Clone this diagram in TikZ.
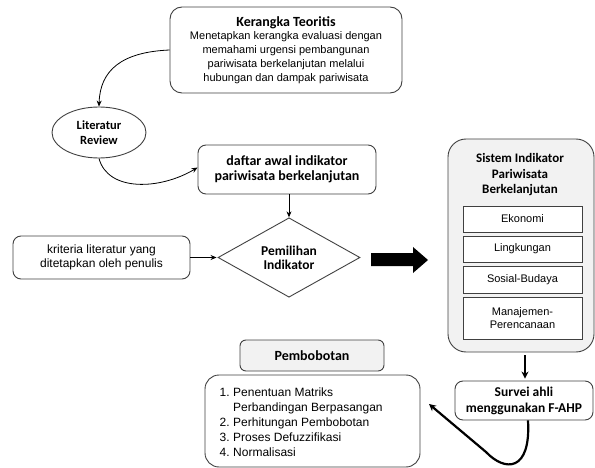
\documentclass[tikz,border=0pt]{standalone}
\usepackage{fontspec}
\setmainfont{Liberation Sans}
\newfontfamily\calb{Carlito}[BoldFont={* Bold}]
\usetikzlibrary{shapes.geometric,arrows.meta}
\definecolor{bordc}{HTML}{404040}
\definecolor{lightfill}{HTML}{F2F2F2}
\tikzset{
  rbox/.style={draw=bordc, line width=0.9pt, fill=white, rounded corners=8pt, align=center, inner sep=0pt},
  sqbox/.style={draw=bordc, line width=0.9pt, fill=white, align=center, inner sep=0pt, minimum width=119pt},
  conn/.style={draw=black, line width=0.8pt, -{Stealth[length=6pt,width=5pt]}},
  thickconn/.style={draw=black, line width=2.2pt, -{Stealth[length=7pt,width=7pt]}},
  regtext/.style={font=\fontsize{11}{14}\selectfont},
  boldtext/.style={font=\calb\bfseries\fontsize{13.5}{15}\selectfont}
}
\begin{document}
\begin{tikzpicture}[x=1pt,y=-1pt]
\useasboundingbox (0,0) rectangle (595,468);

% Kerangka Teoritis
\node[rbox, rounded corners=12pt, minimum width=232pt, minimum height=86pt, regtext] (ker) at (286,50)
 {{\calb\bfseries\fontsize{14}{15}\selectfont Kerangka Teoritis}\\[-1pt]
  Menetapkan kerangka evaluasi dengan\\
  memahami urgensi pembangunan\\
  pariwisata berkelanjutan melalui\\
  hubungan dan dampak pariwisata};

% Literatur Review
\node[ellipse, draw=bordc, line width=0.9pt, fill=white, minimum width=94pt, minimum height=51pt, inner sep=0pt, align=center,
      font=\calb\bfseries\fontsize{12.5}{15}\selectfont] (lit) at (99,132.5) {Literatur\\Review};

% daftar awal
\node[rbox, minimum width=178pt, minimum height=49pt, font=\calb\bfseries\fontsize{14}{14.5}\selectfont] (daf) at (287,169.5)
 {daftar awal indikator\\pariwisata berkelanjutan};

% kriteria
\node[rbox, minimum width=177pt, minimum height=43pt, font=\fontsize{12}{14.5}\selectfont] (kri) at (101.5,257.5)
 {kriteria literatur yang\\ditetapkan oleh penulis};

% Pemilihan Indikator
\node[diamond, draw=bordc, line width=0.9pt, fill=white, minimum width=142pt, minimum height=75pt, inner sep=0pt, align=center,
      font=\calb\bfseries\fontsize{13.5}{14}\selectfont] (pem) at (289,257.5) {Pemilihan\\Indikator};

% big block arrow
\fill[black] (371,253) -- (413,253) -- (413,247) -- (428,260) -- (413,273) -- (413,266) -- (371,266) -- cycle;

% Sistem Indikator
\node[draw=bordc, line width=0.9pt, fill=lightfill, rounded corners=18pt, minimum width=146pt, minimum height=213pt, inner sep=0pt] (sis) at (521,245.5) {};
\node[align=center, inner sep=0pt, font=\calb\bfseries\fontsize{13}{15.5}\selectfont] (sist) at (520,175) {Sistem Indikator\\Pariwisata\\Berkelanjutan};
\node[sqbox, minimum height=26pt, regtext] (eko) at (522.5,219) {Ekonomi};
\node[sqbox, minimum height=26pt, regtext] (lin) at (522.5,249) {Lingkungan};
\node[sqbox, minimum height=27pt, regtext] (sos) at (522.5,279.5) {Sosial-Budaya};
\node[sqbox, minimum height=42pt, font=\fontsize{11}{13.5}\selectfont] (man) at (522.5,318) {Manajemen-\\Perencanaan};

% Survei ahli
\node[rbox, minimum width=138pt, minimum height=39pt, font=\calb\bfseries\fontsize{13.5}{16}\selectfont] (sur) at (524,400.5)
 {Survei ahli\\menggunakan F-AHP};

% Pembobotan
\node[rbox, fill=lightfill, rounded corners=6pt, minimum width=144pt, minimum height=31pt, font=\calb\bfseries\fontsize{14}{15}\selectfont] (bob) at (312,355.5) {Pembobotan};

% list box
\node[rbox, rounded corners=14pt, minimum width=215pt, minimum height=92pt] (lst) at (312.5,421) {};
\node[anchor=north west, inner sep=0pt, align=left, font=\fontsize{12}{15}\selectfont] (lstt) at (219.5,386)
 {\begin{tabular}{@{}l@{\hspace{3.5pt}}l@{}}
  1. & Penentuan Matriks\\
     & Perbandingan Berpasangan\\
  2. & Perhitungan Pembobotan\\
  3. & Proses Defuzzifikasi\\
  4. & Normalisasi
  \end{tabular}};

% connectors
\draw[conn] (ker.west) .. controls (122,52) and (100,70) .. (lit.north);
\draw[conn] (lit.south) .. controls (108,192) and (160,190) .. ([yshift=2pt]daf.west);
\draw[conn] (daf.south -| pem.north) -- (pem.north);
\draw[conn] (kri.east) -- ([xshift=-1pt]pem.west);
\draw[thickconn, shorten <=3pt, shorten >=2pt] (sis.south -| 525,0) -- (sur.north -| 525,0);
\coordinate (tip) at (429,404);
\draw[thickconn] ([xshift=4pt]sur.south) .. controls (531,472) and (505,472) .. (486,452) -- (tip);
\end{tikzpicture}
\end{document}
